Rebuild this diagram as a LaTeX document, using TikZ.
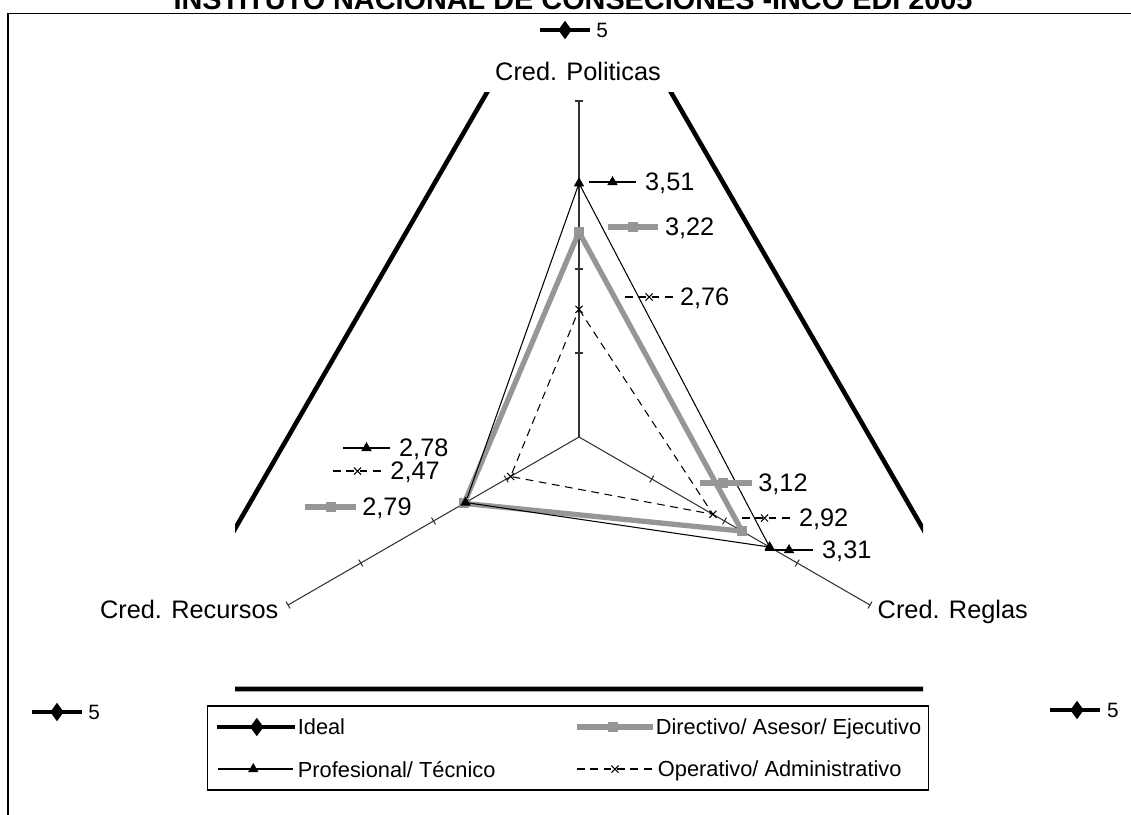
\documentclass[tikz,border=0pt]{standalone}
\usepackage{fontspec}
\setmainfont{Liberation Sans}
\usetikzlibrary{positioning,calc,shapes.geometric,shapes.misc}
\definecolor{dirgray}{RGB}{150,150,150}

\begin{document}
\begin{tikzpicture}[x=0.01cm, y=0.01cm,
  axisline/.style={draw=black!80, line width=0.3pt},
  ideal/.style={draw=black, line width=1.3pt},
  dirline/.style={draw=dirgray, line width=1.5pt, line join=round},
  profline/.style={draw=black, line width=0.3pt},
  opline/.style={draw=black, line width=0.3pt, dash pattern=on 2.2pt off 1.6pt},
  dia/.style={diamond, fill=black, inner sep=0pt, minimum width=0.14cm, minimum height=0.19cm},
  tri/.style={regular polygon, regular polygon sides=3, fill=black, inner sep=0pt, minimum size=0.12cm},
  sq/.style={rectangle, fill=dirgray, inner sep=0pt, minimum size=0.1cm},
  xm/.style={cross out, draw=black, line width=0.3pt, inner sep=0pt, minimum size=0.06cm},
  lbl/.style={inner sep=0pt, text depth=0pt, font=\fontsize{7.2}{8}\selectfont},
  leg/.style={inner sep=0pt, text depth=0pt, font=\fontsize{6.2}{7}\selectfont},
  five/.style={inner sep=0pt, text depth=0pt, font=\fontsize{5.9}{7}\selectfont}]

\useasboundingbox (0,0) rectangle (1131,814);

% title, cut by the top edge
\node[anchor=base, inner sep=0pt, font=\bfseries\fontsize{8.2}{9}\selectfont] (title) at (573,805) {INSTITUTO NACIONAL DE CONSECIONES -INCO EDI 2005};

% frame
\draw[line width=0.55pt] (8,-10) -- (8,800.5) -- (1141,800.5);

\coordinate (c) at (579,377);

% ideal = 5, outside the scale
\begin{scope}
\clip (235,100) rectangle (923,722);
\draw[ideal] ($(c)+(90:504)$) -- ($(c)+(-30:504)$) -- ($(c)+(210:504)$) -- cycle;
\end{scope}

% axes, from 2 to 4 by 0.5
\foreach \a in {90,-30,210} {
  \begin{scope}[shift={(c)}, rotate=\a]
    \draw[axisline] (0,0) -- (336,0);
    \foreach \r in {84,168,252,336}
      \draw[axisline] (\r,-4) -- (\r,4);
  \end{scope}
}

\node[lbl, anchor=base] (pol) at (578,734) {Cred. Politicas};
\node[lbl, anchor=base east] (rec) at (279,196) {Cred. Recursos};
\node[lbl, anchor=base west] (reg) at (877,196) {Cred. Reglas};

% data points
\coordinate (op1) at ($(c)+(90:127.7)$);
\coordinate (op2) at ($(c)+(-30:154.6)$);
\coordinate (op3) at ($(c)+(210:79.0)$);
\coordinate (dir1) at ($(c)+(90:205.0)$);
\coordinate (dir2) at ($(c)+(-30:188.2)$);
\coordinate (dir3) at ($(c)+(210:132.7)$);
\coordinate (pr1) at ($(c)+(90:253.7)$);
\coordinate (pr2) at ($(c)+(-30:220.1)$);
\coordinate (pr3) at ($(c)+(210:131.0)$);

\draw[opline] (op1) -- (op2) -- (op3) -- cycle;
\draw[dirline] (dir1) -- (dir2) -- (dir3) -- cycle;
\draw[profline] (pr1) -- (pr2) -- (pr3) -- cycle;

\foreach \n in {op1,op2,op3} \node[xm] (m\n) at (\n) {};
\foreach \n in {dir1,dir2,dir3} \node[sq] (m\n) at (\n) {};
\foreach \n in {pr1,pr2,pr3} \node[tri] (m\n) at (\n) {};

% data labels
\coordinate (l1) at (589,632);
\draw[profline] (l1) -- ++(47,0) coordinate (l1e);
\node[tri] (l1m) at ($(l1)!0.5!(l1e)$) {};
\node[lbl, right=2.4pt of l1e] (t1) {3,51};

\coordinate (l2) at (608,587);
\draw[dirline] (l2) -- ++(50,0) coordinate (l2e);
\node[sq] (l2m) at ($(l2)!0.5!(l2e)$) {};
\node[lbl, right=1.8pt of l2e] (t2) {3,22};

\coordinate (l3) at (625,517);
\draw[opline] (l3) -- ++(48,0) coordinate (l3e);
\node[xm] (l3m) at ($(l3)!0.5!(l3e)$) {};
\node[lbl, right=1.8pt of l3e] (t3) {2,76};

\coordinate (l4) at (343,366);
\draw[profline] (l4) -- ++(47,0) coordinate (l4e);
\node[tri] (l4m) at ($(l4)!0.5!(l4e)$) {};
\node[lbl, right=2.4pt of l4e] (t4) {2,78};

\coordinate (l5) at (333,343);
\draw[opline] (l5) -- ++(49,0) coordinate (l5e);
\node[xm] (l5m) at ($(l5)!0.5!(l5e)$) {};
\node[lbl, right=2.2pt of l5e] (t5) {2,47};

\coordinate (l6) at (305,307);
\draw[dirline] (l6) -- ++(51,0) coordinate (l6e);
\node[sq] (l6m) at ($(l6)!0.5!(l6e)$) {};
\node[lbl, right=1.6pt of l6e] (t6) {2,79};

\coordinate (l7) at (700,331);
\draw[dirline] (l7) -- ++(52,0) coordinate (l7e);
\node[sq] (l7m) at ($(l7)!0.45!(l7e)$) {};
\node[lbl, right=1.6pt of l7e] (t7) {3,12};

\coordinate (l8) at (742,296);
\draw[opline] (l8) -- ++(50,0) coordinate (l8e);
\node[xm] (l8m) at ($(l8)!0.45!(l8e)$) {};
\node[lbl, right=1.8pt of l8e] (t8) {2,92};

\coordinate (l9) at (765,264);
\draw[profline] (l9) -- ++(48,0) coordinate (l9e);
\node[tri] (l9m) at ($(l9)!0.5!(l9e)$) {};
\node[lbl, right=2.4pt of l9e] (t9) {3,31};

% ideal labels
\coordinate (f1) at (540,784);
\draw[line width=1.1pt] (f1) -- ++(50,0) coordinate (f1e);
\node[dia] (f1m) at ($(f1)!0.5!(f1e)$) {};
\node[five, right=1.6pt of f1e] (ft1) {5};

\coordinate (f2) at (32,102);
\draw[line width=1.1pt] (f2) -- ++(50,0) coordinate (f2e);
\node[dia] (f2m) at ($(f2)!0.5!(f2e)$) {};
\node[five, right=1.6pt of f2e] (ft2) {5};

\coordinate (f3) at (1050,104);
\draw[line width=1.1pt] (f3) -- ++(50,0) coordinate (f3e);
\node[dia] (f3m) at ($(f3)!0.54!(f3e)$) {};
\node[five, right=1.8pt of f3e] (ft3) {5};

% legend
\node[draw, line width=0.4pt, inner sep=0pt, minimum width=7.2cm, minimum height=0.84cm] (legend) at (568,66) {};

\coordinate (g1) at (217,87);
\draw[ideal] (g1) -- ++(78,0) coordinate (g1e);
\node[dia] (g1m) at ($(g1)!0.51!(g1e)$) {};
\node[leg, right=0.6pt of g1e] (gt1) {Ideal};

\coordinate (g2) at (577,87);
\draw[dirline] (g2) -- ++(76,0) coordinate (g2e);
\node[sq] (g2m) at ($(g2)!0.47!(g2e)$) {};
\node[leg, right=0.6pt of g2e] (gt2) {Directivo/ Asesor/ Ejecutivo};

\coordinate (g3) at (218,45);
\draw[profline] (g3) -- ++(75,0) coordinate (g3e);
\node[tri] (g3m) at ($(g3)!0.47!(g3e)$) {};
\node[leg, right=1.2pt of g3e] (gt3) {Profesional/ Técnico};

\coordinate (g4) at (577,45);
\draw[opline] (g4) -- ++(76,0) coordinate (g4e);
\node[xm] (g4m) at ($(g4)!0.5!(g4e)$) {};
\node[leg, right=1.2pt of g4e] (gt4) {Operativo/ Administrativo};
\end{tikzpicture}
\end{document}
